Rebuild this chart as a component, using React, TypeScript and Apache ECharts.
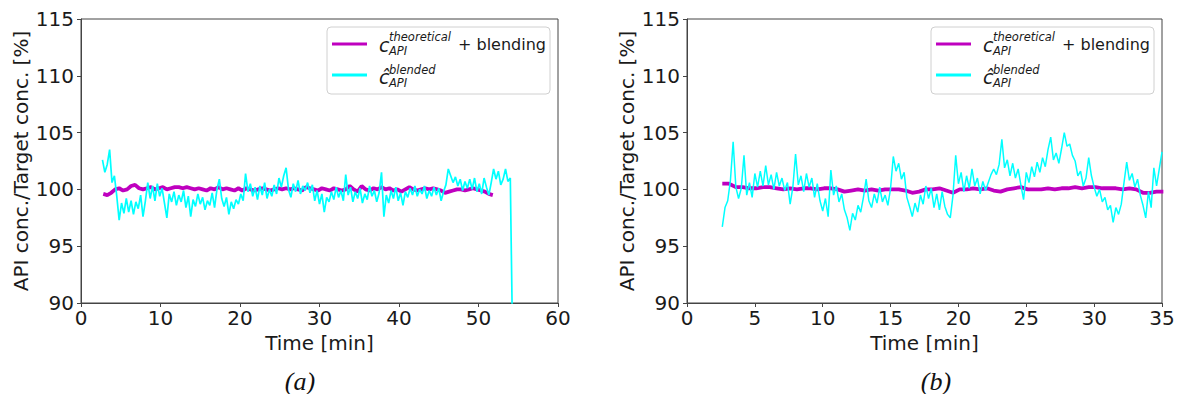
import React, { useEffect, useRef } from "react";
import * as echarts from "echarts";

// ---------- DATA ----------
const yTicks = [90, 95, 100, 105, 110, 115];
const aXTicks = [0, 10, 20, 30, 40, 50, 60];
const bXTicks = [0, 5, 10, 15, 20, 25, 30, 35];
const captions = ["(a)", "(b)"];
const xAxisTitle = "Time [min]";
const yAxisTitle = "API conc./Target conc. [%]";
const seriesNames = ["theoretical + blending", "blended"];

// Panel (a): measured (cyan) series, sampled every 0.3 min from 2.7 min
const A_CYAN_T0 = 2.7;
const A_CYAN_DT = 0.3;
const aCyan = [
  102.6, 101.5, 102.2, 103.5, 100.6, 101.2, 99.4, 97.3, 98.8, 97.9,
  99.2, 98.0, 99.0, 97.8, 98.9, 98.3, 99.5, 97.6, 99.0, 100.6,
  99.2, 100.3, 99.0, 100.5, 99.4, 100.1, 98.8, 97.5, 99.6, 98.9,
  99.8, 98.6, 99.5, 98.9, 99.9, 98.4, 99.4, 97.6, 99.1, 98.5,
  99.6, 98.7, 99.3, 98.2, 99.0, 98.6, 99.7, 98.4, 100.0, 100.9,
  99.2, 98.5, 99.3, 97.8, 98.9, 98.3, 99.1, 98.7, 99.6, 99.0,
  101.4, 99.8, 100.5, 99.4, 100.2, 99.1, 100.3, 99.5, 100.6, 99.2,
  100.0, 99.4, 100.4, 99.6, 101.0, 100.2, 101.2, 101.9, 100.0, 99.3,
  100.5, 99.8, 100.8, 99.6, 100.3, 99.9, 100.6, 99.7, 100.4, 99.0,
  99.9, 98.7, 99.6, 98.0, 99.3, 98.9, 99.8, 99.1, 100.2, 99.3,
  99.9, 99.0, 101.3, 99.5, 100.2, 98.9, 99.8, 99.2, 100.1, 98.8,
  99.6, 99.1, 100.3, 99.4, 99.9, 98.9, 99.7, 101.5, 97.6, 99.5,
  98.8, 99.9, 99.2, 100.2, 99.0, 99.7, 98.6, 99.8, 99.3, 100.1,
  99.5, 100.3, 99.4, 100.0, 99.6, 100.3, 99.2, 99.9, 99.4, 100.2,
  99.5, 100.1, 99.0, 99.8, 100.4, 101.8, 101.2, 100.6, 101.1, 100.3,
  100.9, 99.9, 100.7, 100.1, 100.9, 100.0, 101.0, 99.8, 100.5, 99.6,
  101.0, 100.2, 99.5, 100.6, 101.8, 100.9, 101.6, 100.4, 100.9, 101.8,
  100.7, 101.0, 86.0,
];

// Panel (a): theoretical (magenta) series, every 0.5 min from 2.8 min
const A_MAG_T0 = 2.8;
const A_MAG_DT = 0.5;
const aMagenta = [
  99.6, 99.5, 99.7, 100.0, 100.1, 99.9, 100.0, 100.3, 100.4, 100.1,
  100.0, 100.1, 100.2, 100.0, 100.1, 100.2, 100.0, 100.1, 100.2, 100.2,
  100.1, 100.2, 100.1, 100.0, 100.1, 100.0, 99.9, 100.1, 100.0, 100.2,
  100.0, 100.1, 100.0, 99.9, 100.1, 99.9, 100.1, 100.0, 99.9, 100.0,
  100.1, 100.0, 99.9, 100.0, 100.1, 100.0, 100.1, 100.0, 100.1, 100.0,
  99.9, 100.2, 100.1, 100.0, 99.9, 100.1, 100.0, 99.9, 100.1, 100.0,
  99.9, 100.0, 100.3, 100.0, 99.8, 100.3, 100.0, 99.9, 100.1, 100.0,
  100.2, 100.0, 100.1, 99.9, 100.0, 99.8, 100.0, 100.2, 100.0, 99.9,
  100.0, 100.1, 100.0, 100.1, 100.0, 99.9, 99.7, 99.8, 99.9, 100.0,
  100.0, 99.9, 100.0, 100.1, 100.0, 99.9, 99.8, 99.6, 99.5,
];

// Panel (b): measured (cyan) series, every 0.2 min from 2.6 min
const B_CYAN_T0 = 2.6;
const B_CYAN_DT = 0.2;
const bCyan = [
  96.7, 98.4, 99.0, 100.8, 104.2, 100.2, 99.2, 100.1, 103.0, 99.5,
  100.6, 99.3, 101.4, 100.2, 101.6, 100.3, 102.1, 100.4, 101.3, 100.0,
  101.5, 100.3, 101.0, 99.9, 100.6, 98.7, 100.2, 103.1, 100.4, 101.2,
  99.8, 101.4, 100.2, 101.0, 99.3, 100.5, 99.0, 98.1, 99.2, 97.6,
  101.7, 99.5, 100.3, 98.9, 99.6, 98.2, 97.5, 96.4, 97.9, 97.3,
  98.6, 98.0, 99.3, 100.9, 99.0, 98.4, 99.6, 98.8, 100.2, 98.9,
  99.5, 98.6, 100.1, 102.9, 101.6, 102.3, 100.9, 101.5, 99.3, 98.5,
  97.6, 98.8, 98.0, 99.5, 98.7, 100.3, 99.2, 100.1, 98.4, 99.6,
  98.2, 99.8, 98.5, 97.8, 97.5, 99.5, 103.0, 100.5, 101.5, 99.8,
  101.2, 100.1, 101.8, 100.3, 101.0, 99.6, 100.7, 99.9, 100.6, 101.3,
  101.8, 101.3, 102.2, 104.4, 101.9, 102.6, 101.2, 102.3, 101.0, 101.8,
  100.4, 99.1, 101.5, 100.6, 102.0, 101.1, 102.4, 101.5, 102.8, 102.0,
  103.5, 104.6, 102.6, 103.2, 102.3, 103.6, 105.0, 103.8, 104.0, 103.0,
  102.5, 101.2, 101.6, 100.3, 101.0, 102.8, 101.2, 100.2, 99.4, 100.0,
  98.9, 99.3, 98.2, 98.6, 97.1, 98.4, 97.8, 98.7, 100.6, 102.4,
  100.8, 101.4, 100.2, 100.9, 99.5, 98.6, 97.5, 99.8, 98.4, 101.9,
  100.3, 101.8, 103.3,
];

// Panel (b): theoretical (magenta) series, every 0.5 min from 2.6 min
const B_MAG_T0 = 2.6;
const B_MAG_DT = 0.5;
const bMagenta = [
  100.5, 100.5, 100.2, 100.2, 100.1, 100.1, 100.2, 100.2, 100.1, 100.0,
  100.1, 100.0, 100.1, 100.1, 100.0, 100.1, 100.1, 100.0, 99.8, 99.9,
  100.0, 99.9, 100.0, 99.9, 100.0, 100.0, 100.0, 99.9, 99.7, 99.8,
  100.0, 100.0, 100.1, 99.9, 99.7, 100.0, 100.0, 100.1, 100.0, 100.1,
  99.9, 99.8, 100.0, 100.1, 100.2, 100.0, 100.0, 100.0, 100.1, 100.0,
  100.1, 100.1, 100.2, 100.1, 100.2, 100.2, 100.1, 100.1, 100.1, 100.0,
  100.1, 100.0, 99.7, 99.7, 99.8, 99.8,
];

// ---------- HELPERS ----------
const MAGENTA = "#bf00bf";
const CYAN = "#00ffff";
const AXIS = "#444";
const FONT = "DejaVu Sans";
const TXT = "#1a1a1a";

function toPairs(t0: number, dt: number, vals: number[]) {
  return vals.map((v, i) => [Math.round((t0 + i * dt) * 100) / 100, v]);
}

function legendGroup(x: number, y: number) {
  const sup = { fontFamily: FONT, fontSize: 11.5, fontStyle: "italic", fill: TXT };
  return {
    type: "group",
    x,
    y,
    silent: true,
    children: [
      {
        type: "rect",
        shape: { x: 0, y: 0, width: 223, height: 67, r: 4 },
        style: { fill: "rgba(255,255,255,0.85)", stroke: "#d0d0d0", lineWidth: 1 },
      },
      { type: "line", shape: { x1: 5, y1: 17, x2: 40, y2: 17 }, style: { stroke: MAGENTA, lineWidth: 3 } },
      { type: "text", x: 52, y: 18, style: { text: "c", fontFamily: FONT, fontSize: 19, fontStyle: "italic", fill: TXT, verticalAlign: "middle" } },
      { type: "text", x: 62, y: 10, style: { ...sup, text: seriesNames[0].split(" ")[0], verticalAlign: "middle" } },
      { type: "text", x: 62, y: 24, style: { ...sup, text: "API", verticalAlign: "middle" } },
      { type: "text", x: 131, y: 17, style: { text: "+ blending", fontFamily: FONT, fontSize: 16, fill: TXT, verticalAlign: "middle" } },
      { type: "line", shape: { x1: 5, y1: 48, x2: 40, y2: 48 }, style: { stroke: CYAN, lineWidth: 3 } },
      { type: "text", x: 52, y: 50, style: { text: "ĉ", fontFamily: FONT, fontSize: 19, fontStyle: "italic", fill: TXT, verticalAlign: "middle" } },
      { type: "text", x: 62, y: 43, style: { ...sup, text: seriesNames[1], verticalAlign: "middle" } },
      { type: "text", x: 62, y: 56, style: { ...sup, text: "API", verticalAlign: "middle" } },
    ],
  };
}

function xAxisCfg(gridIndex: number, max: number, interval: number) {
  return {
    type: "value",
    gridIndex,
    min: 0,
    max,
    interval,
    name: xAxisTitle,
    nameLocation: "middle",
    nameGap: 30,
    nameTextStyle: { fontFamily: FONT, fontSize: 20, color: TXT },
    axisLine: { show: true, lineStyle: { color: AXIS, width: 1 } },
    axisTick: { show: true, length: 4, lineStyle: { color: AXIS } },
    axisLabel: { fontFamily: FONT, fontSize: 20, color: TXT, margin: 5 },
    splitLine: { show: false },
  };
}

function yAxisCfg(gridIndex: number) {
  return {
    type: "value",
    gridIndex,
    min: yTicks[0],
    max: yTicks[yTicks.length - 1],
    interval: yTicks[1] - yTicks[0],
    name: yAxisTitle,
    nameLocation: "middle",
    nameGap: 50,
    nameTextStyle: { fontFamily: FONT, fontSize: 20, color: TXT },
    axisLine: { show: true, lineStyle: { color: AXIS, width: 1 } },
    axisTick: { show: true, length: 4, lineStyle: { color: AXIS } },
    axisLabel: { fontFamily: FONT, fontSize: 20, color: TXT, margin: 7 },
    splitLine: { show: false },
  };
}

export default function App() {
  const ref = useRef<HTMLDivElement>(null);

  useEffect(() => {
    document.body.style.margin = "0";
    if (!ref.current) return;
    const chart = echarts.init(ref.current, null, { renderer: "svg" });

    const lineSeries = (name: string, xi: number, data: number[][], color: string, width: number) => ({
      type: "line",
      name,
      xAxisIndex: xi,
      yAxisIndex: xi,
      data,
      showSymbol: false,
      symbol: "none",
      clip: true,
      lineStyle: { color, width },
      itemStyle: { color },
    });

    chart.setOption({
      animation: false,
      backgroundColor: "#fff",
      grid: [
        { left: 81, top: 19, width: 477, height: 284, show: true, borderColor: AXIS, borderWidth: 1, backgroundColor: "transparent" },
        { left: 687, top: 19, width: 475, height: 284, show: true, borderColor: AXIS, borderWidth: 1, backgroundColor: "transparent" },
      ],
      xAxis: [
        xAxisCfg(0, aXTicks[aXTicks.length - 1], aXTicks[1] - aXTicks[0]),
        xAxisCfg(1, bXTicks[bXTicks.length - 1], bXTicks[1] - bXTicks[0]),
      ],
      yAxis: [yAxisCfg(0), yAxisCfg(1)],
      series: [
        lineSeries("a-theoretical", 0, toPairs(A_MAG_T0, A_MAG_DT, aMagenta), MAGENTA, 3.8),
        lineSeries("a-blended", 0, toPairs(A_CYAN_T0, A_CYAN_DT, aCyan), CYAN, 1.7),
        lineSeries("b-theoretical", 1, toPairs(B_MAG_T0, B_MAG_DT, bMagenta), MAGENTA, 3.8),
        lineSeries("b-blended", 1, toPairs(B_CYAN_T0, B_CYAN_DT, bCyan), CYAN, 1.5),
      ],
      graphic: [
        legendGroup(327, 27),
        legendGroup(931, 27),
        {
          type: "text",
          x: 300,
          y: 381,
          style: { text: captions[0], fontFamily: "Liberation Serif", fontSize: 26, fontStyle: "italic", fill: "#111", align: "center", verticalAlign: "middle" },
        },
        {
          type: "text",
          x: 936,
          y: 381,
          style: { text: captions[1], fontFamily: "Liberation Serif", fontSize: 26, fontStyle: "italic", fill: "#111", align: "center", verticalAlign: "middle" },
        },
      ],
    });

    return () => chart.dispose();
  }, []);

  return <div ref={ref} style={{ width: 1180, height: 394 }} />;
}
